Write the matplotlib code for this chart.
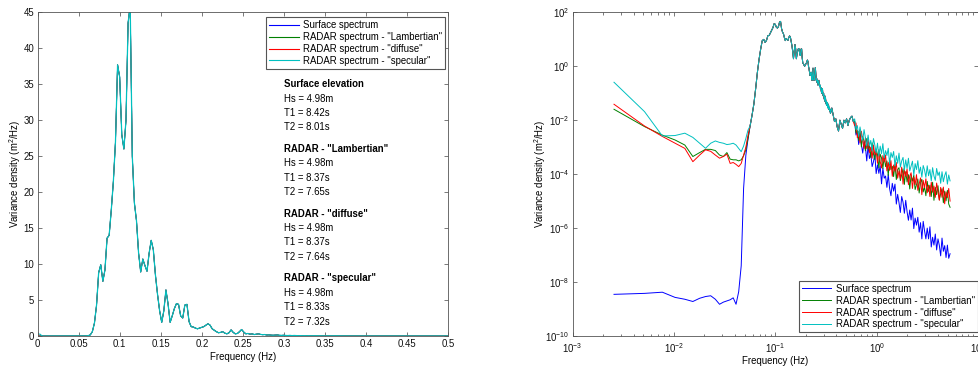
import numpy as np
import matplotlib
matplotlib.use('Agg')
import matplotlib.pyplot as plt
from matplotlib.ticker import FixedLocator, FuncFormatter, LogLocator, NullLocator

plt.rcParams['font.family'] = ['Liberation Sans', 'DejaVu Sans']
plt.rcParams['mathtext.default'] = 'regular'
plt.rcParams['font.size'] = 6.9

# frequency step of the spectra (Hz)
df = 0.00256

names = ['Surface spectrum', 'RADAR spectrum - "Lambertian"',
         'RADAR spectrum - "diffuse"', 'RADAR spectrum - "specular"']
colors = ['#0000ff', '#008000', '#ff0000', '#00c0c0']

# lowest 21 bins, where the four spectra differ (m2/Hz)
blue_low = [3.5e-9, 3.8e-9, 4.2e-9, 2.7e-9, 2.3e-9, 1.9e-9, 2.5e-9, 2.9e-9, 3.1e-9, 2.3e-9,
            1.5e-9, 1.8e-9, 2.0e-9, 2.2e-9, 2.6e-9, 1.5e-9, 4.4e-9, 4e-8, 3e-5, 5e-4, 2e-3]
green_low = [0.0254, 0.0058, 0.0028, 0.00185, 0.0012, 0.00045, 0.00063, 0.00083, 0.00083, 0.00075,
             0.00051, 0.00045, 0.00063, 0.00036, 0.00034, 0.00034, 0.00031, 0.00034, 0.00048, 0.0008, 0.0021]
red_low = [0.039, 0.0061, 0.0025, 0.0014, 0.0009, 0.00029, 0.00051, 0.0008, 0.0007, 0.00051,
           0.00039, 0.00045, 0.00055, 0.00025, 0.00027, 0.00023, 0.00019, 0.00025, 0.00051, 0.001, 0.0028]
cyan_low = [0.255, 0.0208, 0.0026, 0.0027, 0.0033, 0.0023, 0.0014, 0.00091, 0.0014, 0.0017,
            0.0015, 0.0014, 0.00125, 0.0013, 0.0014, 0.0012, 0.0009, 0.00068, 0.0011, 0.0021, 0.0043]

# wave peak, shared by all spectra (bins 22..136)
core = [0.006, 0.015, 0.04, 0.15, 0.6, 1.8, 4.3, 8.8, 9.9, 7.6,
        9.2, 13.6, 14.0, 17.5, 21.5, 27.0, 37.7, 36.0, 28.0, 26.0,
        30.0, 43.5, 46.0, 25.0, 18.5, 16.0, 11.5, 8.9, 10.7, 9.8,
        9.0, 11.5, 13.3, 12.0, 8.5, 5.8, 3.5, 1.9, 3.5, 6.4,
        4.5, 1.9, 2.8, 3.8, 4.5, 4.4, 2.8, 2.5, 4.3, 4.4,
        2.0, 1.3, 1.25, 1.1, 1.0, 1.1, 1.2, 1.3, 1.5, 1.7,
        1.5, 1.0, 0.8, 0.6, 0.45, 0.5, 0.6, 0.4, 0.3, 0.45,
        0.85, 0.5, 0.3, 0.35, 0.6, 0.9, 0.55, 0.3,
        0.35, 0.25, 0.3, 0.2, 0.25, 0.3, 0.22, 0.18, 0.2, 0.14,
        0.16, 0.12, 0.1, 0.13, 0.15, 0.09, 0.08, 0.1, 0.07, 0.06,
        0.08, 0.05, 0.07, 0.05, 0.04, 0.05, 0.035, 0.045, 0.03, 0.04,
        0.028, 0.035, 0.025, 0.03, 0.022, 0.026, 0.02]

# high-frequency part, log10 of density, 0.35 to 5.3 Hz
hump_log = [-1.75, -1.55, -1.8, -2.05, -1.95, -2.25, -2.4, -2.0, -2.15, -2.3,
            -2.0, -2.1, -1.95, -2.2, -2.0, -1.9, -1.85, -2.05]
blue_tail_log = [-2.05, -2.55, -2.40, -2.90, -2.50, -2.90, -3.22, -2.80, -2.98, -3.51,
                 -2.94, -3.42, -3.25, -3.72, -3.54, -3.26, -3.98, -3.65, -3.97, -3.69,
                 -4.36, -3.78, -4.15, -4.07, -4.49, -4.01, -4.53, -4.80, -4.34, -4.63,
                 -4.37, -5.11, -4.75, -5.06, -5.42, -4.83, -5.04, -5.45, -4.97, -5.39,
                 -5.71, -5.33, -5.70, -5.26, -6.02, -5.63, -5.89, -5.60, -6.15, -5.80,
                 -6.40, -5.75, -6.10, -6.40, -6.00, -6.40, -5.95, -6.70, -6.34, -6.63,
                 -6.22, -6.81, -6.40, -6.64, -7.03, -6.37, -6.86, -6.65, -7.09, -6.63,
                 -7.12, -6.95]
green_tail_log = [-2.03, -2.48, -2.38, -2.75, -2.37, -2.99, -2.61, -2.78, -3.13, -2.68,
                  -3.08, -2.93, -3.38, -2.84, -3.25, -3.46, -3.07, -3.28, -3.77, -3.26,
                  -3.40, -3.79, -3.33, -3.72, -3.51, -4.05, -3.44, -3.83, -3.71, -4.09,
                  -3.62, -4.20, -3.83, -3.76, -4.24, -4.02, -3.80, -4.38, -3.91, -4.29,
                  -4.02, -4.55, -4.03, -4.26, -4.04, -4.57, -4.40, -4.18, -4.70, -4.32,
                  -4.19, -4.66, -4.48, -4.80, -4.27, -4.64, -4.41, -4.83, -4.30, -4.97,
                  -4.49, -4.76, -4.43, -4.95, -4.72, -4.54, -5.06, -4.63, -4.99, -4.60,
                  -5.11, -5.23]
red_tail_log = [-2.20, -2.10, -2.65, -2.42, -2.84, -2.41, -2.73, -3.05, -2.65, -3.05,
                -2.65, -3.20, -3.00, -3.41, -2.92, -3.28, -3.14, -3.60, -3.09, -3.53,
                -3.77, -3.31, -3.55, -3.29, -3.88, -3.57, -3.86, -3.50, -4.08, -3.66,
                -3.89, -3.57, -4.15, -3.88, -4.16, -3.74, -4.37, -3.85, -4.08, -3.81,
                -4.39, -4.07, -3.95, -4.53, -4.11, -4.39, -4.02, -4.60, -4.37, -4.14,
                -4.76, -4.23, -4.50, -4.17, -4.69, -4.41, -4.83, -4.30, -4.67, -4.44,
                -4.86, -4.33, -4.65, -4.97, -4.49, -4.86, -4.48, -5.10, -4.66, -4.87,
                -4.53, -5.00]
cyan_tail_log = [-1.95, -2.35, -2.20, -2.60, -2.25, -2.55, -2.75, -2.35, -2.65, -2.95,
                 -2.55, -2.95, -2.75, -3.14, -2.68, -2.92, -3.21, -2.85, -3.33, -2.96,
                 -3.24, -2.87, -3.40, -3.13, -3.31, -3.04, -3.62, -3.20, -3.38, -3.16,
                 -3.69, -3.32, -3.60, -3.22, -3.74, -3.51, -3.38, -3.85, -3.47, -3.79,
                 -3.41, -3.88, -3.70, -3.52, -4.04, -3.61, -3.83, -3.50, -3.97, -3.74,
                 -4.11, -3.68, -3.85, -4.12, -3.69, -4.06, -3.83, -4.25, -3.76, -4.07,
                 -4.23, -3.79, -4.05, -3.92, -4.34, -3.91, -4.28, -4.05, -3.91, -4.37,
                 -4.03, -4.25]

# wave parameters printed on the linear plot
stat_titles = ['Surface elevation', 'RADAR - "Lambertian"', 'RADAR - "diffuse"', 'RADAR - "specular"']
hs = [4.98, 4.98, 4.98, 4.98]
t1 = [8.42, 8.37, 8.37, 8.33]
t2 = [8.01, 7.65, 7.64, 7.32]

lows = [blue_low, green_low, red_low, cyan_low]
tails = [blue_tail_log, green_tail_log, red_tail_log, cyan_tail_log]

n_lo = len(blue_low) + len(core)
f_lo = np.arange(1, n_lo + 1) * df
f_tail = np.geomspace(0.35, 5.3, len(hump_log) + len(blue_tail_log))
freq = np.concatenate([f_lo, f_tail])


def spectrum(low, tail_log):
    return np.concatenate([low, core, 10.0 ** np.array(hump_log + tail_log)])


def style_axes(ax):
    ax.tick_params(which='both', direction='in', top=True, right=True,
                   width=0.5, color='#444444', labelcolor='#111111', pad=2.5)
    ax.tick_params(which='major', length=3)
    ax.tick_params(which='minor', length=1.8)
    for s in ax.spines.values():
        s.set_color('#555555')
        s.set_linewidth(0.6)


fig = plt.figure(figsize=(9.79, 3.67), dpi=100)
ax1 = fig.add_axes([0.0385, 0.0845, 0.4194, 0.882])
ax2 = fig.add_axes([0.5849, 0.0845, 0.4141, 0.882])

for low, tail, name, c in zip(lows, tails, names, colors):
    v = spectrum(low, tail)
    lw_lin = 0.9 if c == colors[-1] else 0.6
    ax1.plot(freq, v, color=c, lw=lw_lin, label=name)
    ax2.loglog(freq, v, color=c, lw=0.7, label=name)

# linear plot
ax1.set_xlim(0, 0.5)
ax1.set_ylim(0, 45)
ax1.xaxis.set_major_locator(FixedLocator(np.arange(0, 0.501, 0.05)))
ax1.yaxis.set_major_locator(FixedLocator(np.arange(0, 46, 5)))
ax1.xaxis.set_major_formatter(FuncFormatter(lambda x, p: '%g' % round(x, 2)))
ax1.set_xlabel('Frequency (Hz)', labelpad=2)
ax1.set_ylabel('Variance density (m$^2$/Hz)', labelpad=0.5)
style_axes(ax1)
leg1 = ax1.legend(loc='upper right', bbox_to_anchor=(0.992, 0.985), borderaxespad=0,
                  fancybox=False, edgecolor='#555555', framealpha=1,
                  handlelength=3.1, handletextpad=0.45, labelspacing=0.2, borderpad=0.3)
leg1.get_frame().set_linewidth(0.8)
for h in leg1.get_lines():
    h.set_linewidth(0.8)

for i in range(4):
    y0 = 35 - 9 * i
    ax1.text(0.3, y0, stat_titles[i], fontweight='bold', va='center', ha='left')
    ax1.text(0.3, y0 - 2, 'Hs = %.2fm' % hs[i], va='center', ha='left')
    ax1.text(0.3, y0 - 4, 'T1 = %.2fs' % t1[i], va='center', ha='left')
    ax1.text(0.3, y0 - 6, 'T2 = %.2fs' % t2[i], va='center', ha='left')

# log-log plot
ax2.set_xlim(1e-3, 1e1)
ax2.set_ylim(1e-10, 1e2)
ax2.yaxis.set_major_locator(FixedLocator([1e-10, 1e-8, 1e-6, 1e-4, 1e-2, 1e0, 1e2]))
ax2.yaxis.set_minor_locator(NullLocator())
ax2.xaxis.set_major_locator(LogLocator(base=10, numticks=10))
ax2.xaxis.set_minor_locator(LogLocator(base=10, subs=np.arange(2, 10), numticks=10))
ax2.set_xlabel('Frequency (Hz)', labelpad=1)
ax2.set_ylabel('Variance density (m$^2$/Hz)', labelpad=-2)
style_axes(ax2)
ax2.tick_params(axis='x', which='both', pad=3.5)
leg2 = ax2.legend(loc='lower right', bbox_to_anchor=(0.999, 0.0114), borderaxespad=0,
                  fancybox=False, edgecolor='#555555', framealpha=1,
                  handlelength=3.1, handletextpad=0.45, labelspacing=0.2, borderpad=0.3)
leg2.get_frame().set_linewidth(0.8)

fig.savefig('out.png', dpi=100)
